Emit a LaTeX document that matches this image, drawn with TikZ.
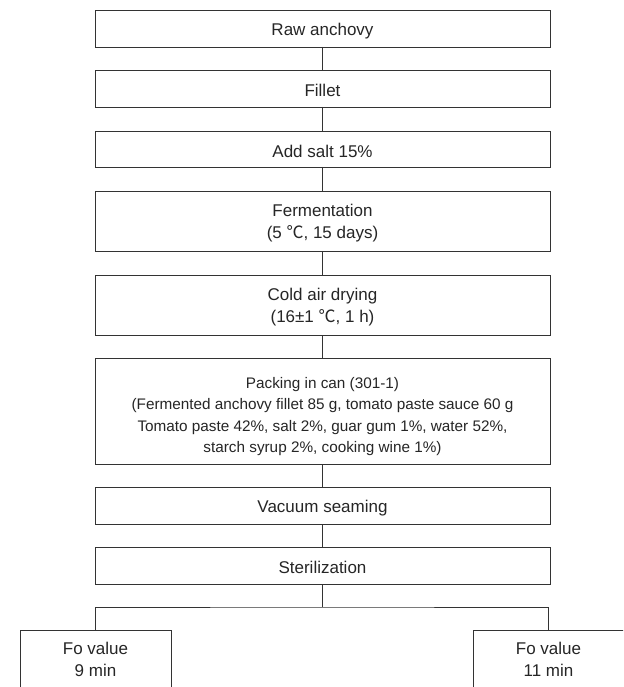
\documentclass[tikz,border=0pt]{standalone}
\usepackage{fontspec}
\setmainfont{Liberation Sans}
\newfontfamily\cjk{Noto Sans CJK SC}
\newcommand{\degc}{{\cjk ℃}}
\begin{document}
\begin{tikzpicture}[x=1pt,y=-1pt,
  every node/.style={inner sep=0pt, outer sep=0pt},
  stepbox/.style={draw=black!80, line width=0.9pt, minimum width=455pt},
  steptext/.style={align=center, text=black!85, font=\fontsize{17}{22}\selectfont, yshift=-2.3pt},
  packtext/.style={align=center, text=black!85, font=\fontsize{15.3}{21.5}\selectfont, yshift=-5.5pt},
  fobox/.style={draw=black!80, line width=0.9pt, minimum width=151pt, minimum height=90pt, anchor=north},
  fotext/.style={align=center, text=black!85, font=\fontsize{17}{22}\selectfont},
  conn/.style={draw=black!80, line width=0.9pt}]
\useasboundingbox (0,0) rectangle (623,687);
\clip (0,0) rectangle (623,687);
\fill[white] (0,0) rectangle (623,687);

\node[stepbox, minimum height=37pt, label={[steptext,name=rawt]center:Raw anchovy}] (raw) at (322.5,28.5) {};
\node[stepbox, minimum height=37pt, label={[steptext,name=fillett]center:Fillet}] (fillet) at (322.5,88.5) {};
\node[stepbox, minimum height=36pt, label={[steptext,name=saltt]center:Add salt 15\%}] (salt) at (322.5,149) {};
\node[stepbox, minimum height=60pt, label={[steptext,name=fermt]center:{Fermentation\\(5 \degc, 15 days)}}] (ferm) at (322.5,221) {};
\node[stepbox, minimum height=60pt, label={[steptext,name=coldt]center:{Cold air drying\\(16±1 \degc, 1 h)}}] (cold) at (322.5,305) {};
\node[stepbox, minimum height=106pt, label={[packtext,name=packt]center:{Packing in can (301-1)\\(Fermented anchovy fillet 85 g, tomato paste sauce 60 g\\Tomato paste 42\%, salt 2\%, guar gum 1\%, water 52\%,\\starch syrup 2\%, cooking wine 1\%)}}] (pack) at (322.5,411) {};
\node[stepbox, minimum height=37pt, label={[steptext,name=vact]center:Vacuum seaming}] (vac) at (322.5,505.5) {};
\node[stepbox, minimum height=37pt, label={[steptext,name=stert]center:Sterilization}] (ster) at (322.5,565.5) {};

\coordinate (br) at (322.5,607);
\node[fobox] (fo1) at (95.5,630) {};
\node[fobox] (fo2) at (548.5,630) {};
\node[fotext] (fo1t) at (95.5,659) {Fo value\\9 min};
\node[fotext] (fo2t) at (548.5,659) {Fo value\\11 min};

\draw[conn] (raw) -- (fillet);
\draw[conn] (fillet) -- (salt);
\draw[conn] (salt) -- (ferm);
\draw[conn] (ferm) -- (cold);
\draw[conn] (cold) -- (pack);
\draw[conn] (pack) -- (vac);
\draw[conn] (vac) -- (ster);
\draw[conn] (ster) -- (br);
\draw[conn] (fo1.north) |- (br) -| (fo2.north);
\end{tikzpicture}
\end{document}
